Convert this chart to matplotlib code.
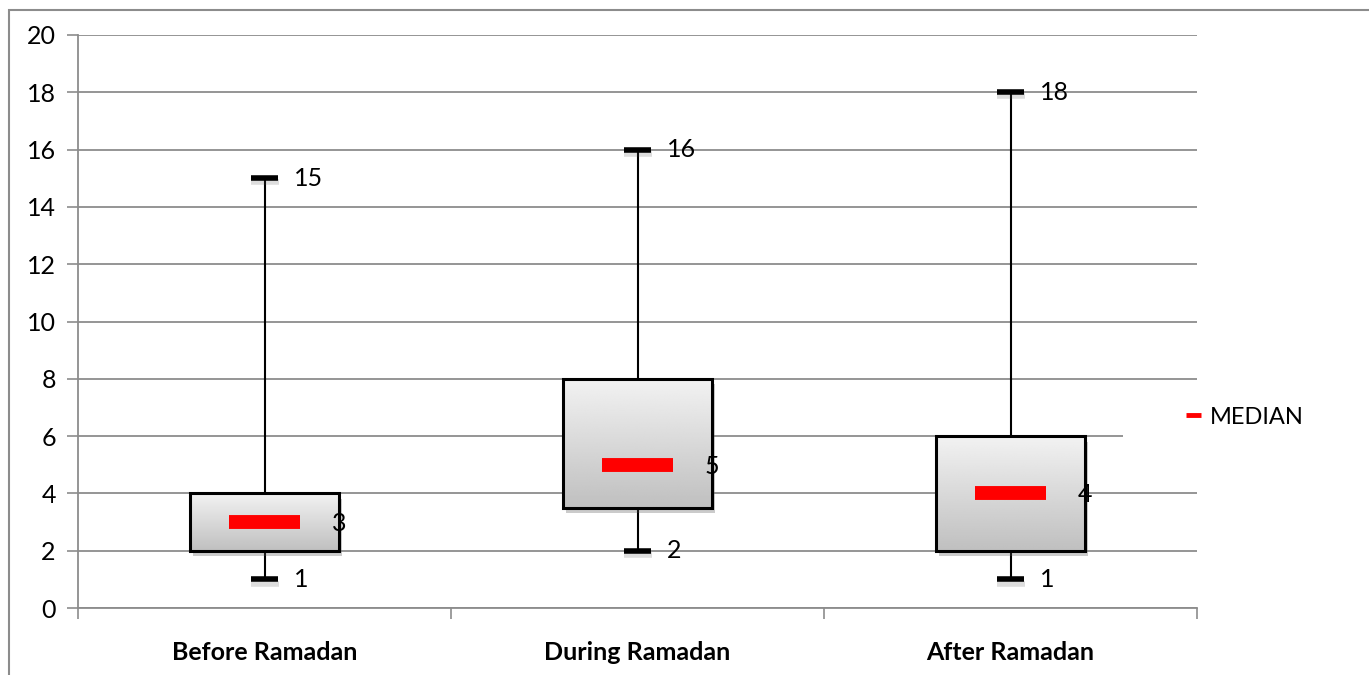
import matplotlib
matplotlib.use("Agg")
import matplotlib.pyplot as plt
import matplotlib.patheffects as pe
from matplotlib.patches import Rectangle
from matplotlib.lines import Line2D
import numpy as np

categories = ["Before Ramadan", "During Ramadan", "After Ramadan"]
whisker_low = [1, 2, 1]
whisker_high = [15, 16, 18]
box_low = [2, 3.5, 2]
box_high = [4, 8, 6]
medians = [3, 5, 4]
y_ticks = [0, 2, 4, 6, 8, 10, 12, 14, 16, 18, 20]

plt.rcParams['font.family'] = ['Lato', 'DejaVu Sans']
FS = 18

W, H = 1369, 675
fig = plt.figure(figsize=(W / 100, H / 100), dpi=100)
ax = fig.add_axes([78 / W, 1 - 608 / H, (1197 - 78) / W, (608 - 35) / H])

# outer chart frame
fig.add_artist(Rectangle((9 / W, -0.05), 1.2, 1 - 10 / H + 0.05, transform=fig.transFigure,
                         fill=False, edgecolor='#8c8c8c', linewidth=1.5, zorder=0))

grid_c = '#8c8c8c'
ax.set_xlim(-0.5, 2.5)
ax.set_ylim(0, 20)
ax.set_yticks(y_ticks)
ax.set_yticklabels([str(t) for t in y_ticks], fontsize=FS)
ax.set_xticks([-0.5, 0.5, 1.5, 2.5])
ax.set_xticklabels([])
ax.tick_params(axis='both', direction='out', length=8, color=grid_c, width=1.2)
ax.tick_params(axis='y', pad=8)
for s in ['top', 'right']:
    ax.spines[s].set_visible(False)
for s in ['left', 'bottom']:
    ax.spines[s].set_color(grid_c)
    ax.spines[s].set_linewidth(1.3)
ax.yaxis.grid(True, color=grid_c, linewidth=1.3)
ax.set_axisbelow(True)

for i, name in enumerate(categories):
    ax.text(i, -1.55, name, ha='center', va='center', fontsize=FS, fontweight='bold')

box_w = 0.40
cap_w = 0.075
med_w = 0.19
grad = np.linspace(0.95, 0.75, 256).reshape(-1, 1)
shadow_line = [pe.SimpleLineShadow(offset=(0.5, -3), alpha=0.2, shadow_color='#555555'), pe.Normal()]

for i in range(len(categories)):
    # whisker
    ax.plot([i, i], [whisker_low[i], whisker_high[i]], color='black', linewidth=1.5, zorder=2)
    # caps
    for v in (whisker_low[i], whisker_high[i]):
        ax.plot([i - cap_w / 2, i + cap_w / 2], [v, v], color='black', linewidth=4,
                solid_capstyle='butt', zorder=3, path_effects=shadow_line)
    ax.text(i + 0.08, whisker_high[i], str(whisker_high[i]), ha='left', va='center', fontsize=FS, zorder=5)
    ax.text(i + 0.08, whisker_low[i], str(whisker_low[i]), ha='left', va='center', fontsize=FS, zorder=5)
    # box: shadowed base, vertical gradient fill, black outline
    x0 = i - box_w / 2
    base = Rectangle((x0, box_low[i]), box_w, box_high[i] - box_low[i], facecolor='white',
                     edgecolor='none', zorder=3.2,
                     path_effects=[pe.SimplePatchShadow(offset=(2, -4), alpha=0.3, shadow_rgbFace='#555555'),
                                   pe.Normal()])
    ax.add_patch(base)
    fill = ax.imshow(grad, cmap='gray', vmin=0, vmax=1, aspect='auto', zorder=3.5,
                     extent=(x0, x0 + box_w, box_low[i], box_high[i]), origin='upper',
                     interpolation='bilinear')
    fill.set_clip_path(base)
    ax.add_patch(Rectangle((x0, box_low[i]), box_w, box_high[i] - box_low[i], facecolor='none',
                           edgecolor='black', linewidth=2.2, zorder=4))
    # median bar
    ax.plot([i - med_w / 2, i + med_w / 2], [medians[i], medians[i]], color='#ff0000',
            linewidth=10, solid_capstyle='butt', zorder=5)
    ax.text(i + 0.2, medians[i] - 0.05, str(medians[i]), ha='center', va='center', fontsize=FS, zorder=6)

ax.set_xlim(-0.5, 2.5)
ax.set_ylim(0, 20)

# legend area with white background
fig.add_artist(Rectangle((1123 / W, 1 - 442 / H), (1320 - 1123) / W, 47 / H, transform=fig.transFigure,
                         facecolor='white', edgecolor='none', zorder=3))
handle = Line2D([], [], color='#ff0000', linewidth=3.5, solid_capstyle='butt')
leg = fig.legend([handle], ['MEDIAN'], loc='center left', bbox_to_anchor=(1186 / W, 1 - 417 / H),
                 frameon=False, fontsize=17, handlelength=0.65, handletextpad=0.35,
                 borderpad=0, borderaxespad=0)
leg.set_zorder(4)

fig.savefig('out.png', dpi=100)
